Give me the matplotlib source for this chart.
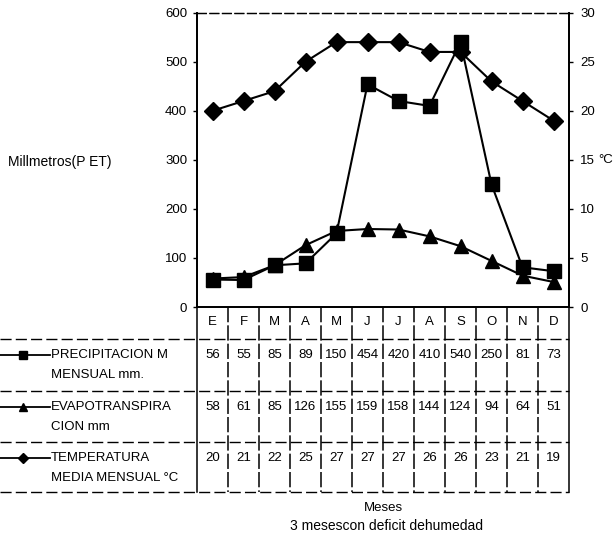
import matplotlib
matplotlib.use("Agg")
import matplotlib.pyplot as plt

plt.rcParams['font.family'] = ['Liberation Sans', 'DejaVu Sans']

# Climate data by month
months = ["E", "F", "M", "A", "M", "J", "J", "A", "S", "O", "N", "D"]
precipitacion = [56, 55, 85, 89, 150, 454, 420, 410, 540, 250, 81, 73]
evapotranspiracion = [58, 61, 85, 126, 155, 159, 158, 144, 124, 94, 64, 51]
temperatura = [20, 21, 22, 25, 27, 27, 27, 26, 26, 23, 21, 19]

mm_ticks = [0, 100, 200, 300, 400, 500, 600]
c_ticks = [0, 5, 10, 15, 20, 25, 30]

row_labels = [
    ("PRECIPITACION M", "MENSUAL mm."),
    ("EVAPOTRANSPIRA", "CION mm"),
    ("TEMPERATURA", "MEDIA MENSUAL °C"),
]
row_series = [precipitacion, evapotranspiracion, temperatura]
row_markers = ["s", "^", "D"]

W, H = 615, 538
fig = plt.figure(figsize=(W / 100, H / 100), dpi=100)


def px_rect(x0, y0, x1, y1):
    return [x0 / W, 1 - y1 / H, (x1 - x0) / W, (y1 - y0) / H]


AX_L, AX_R, AX_T, AX_B = 197, 569, 12.7, 307
TAB_B = 492
FS = 9.5

ax = fig.add_axes(px_rect(AX_L, AX_T, AX_R, AX_B))
ax2 = ax.twinx()

x = list(range(len(months)))
lw = 1.5
ax.plot(x, precipitacion, color="black", lw=lw, marker="s", ms=9.5,
        mec="black", mfc="black", zorder=3, clip_on=False)
ax.plot(x, evapotranspiracion, color="black", lw=lw, marker="^", ms=9.5,
        mec="black", mfc="black", zorder=3, clip_on=False)
ax2.plot(x, temperatura, color="black", lw=lw, marker="D", ms=9.5,
         mec="black", mfc="black", zorder=3, clip_on=False)

ax.set_xlim(-0.5, len(months) - 0.5)
ax.set_ylim(0, 600)
ax2.set_ylim(0, 30)
ax.set_yticks(mm_ticks)
ax2.set_yticks(c_ticks)
ax.set_xticks([])
ax.tick_params(axis="y", direction="out", length=3, width=1, pad=4,
               labelsize=FS)
ax2.tick_params(axis="y", direction="out", length=3, width=1, pad=5,
                labelsize=FS)

for a in (ax, ax2):
    for s in a.spines.values():
        s.set_linewidth(1.3)
    a.spines["top"].set_linestyle((0, (7, 3)))
    a.spines["top"].set_linewidth(0.9)

# Data table below the chart, sharing the month columns
tab = fig.add_axes(px_rect(AX_L, AX_B, AX_R, TAB_B))
tab.set_xlim(ax.get_xlim())
tab_h = TAB_B - AX_B
tab.set_ylim(tab_h, 0)
tab.axis("off")

col_w = (AX_R - AX_L) / len(months)
left_edge = -0.5 - AX_L / col_w
right_edge = len(months) - 0.5

rows = [0, 32, 84, 135, tab_h]

for yv in rows[1:]:
    tab.plot([left_edge, right_edge], [yv, yv], color="black", lw=1.0,
             ls=(0, (8, 3)), clip_on=False)
for k in range(len(months) + 1):
    xv = -0.5 + k
    ls = "-" if k in (0, len(months)) else (0, (10, 2))
    tab.plot([xv, xv], [0, tab_h], color="black", lw=1.1, ls=ls,
             clip_on=False)

for i, m in enumerate(months):
    tab.text(i, 15, m, ha="center", va="center", fontsize=FS)

for r, (series, (l1, l2), mk) in enumerate(zip(row_series, row_labels,
                                                row_markers)):
    top = rows[r + 1]
    y1 = top + 16
    y2 = top + 36
    for i, v in enumerate(series):
        tab.text(i, y1, str(v), ha="center", va="center", fontsize=FS)
    tab.plot([left_edge, left_edge + 50 / col_w], [y1, y1], color="black",
             lw=1.3, clip_on=False)
    tab.plot([left_edge + 23 / col_w], [y1], marker=mk, ms=5.5,
             color="black", clip_on=False)
    tab.text(left_edge + 51 / col_w, y1, l1, ha="left", va="center",
             fontsize=FS)
    tab.text(left_edge + 51 / col_w, y2, l2, ha="left", va="center",
             fontsize=FS)

fig.text(8 / W, 1 - 162 / H, "Millmetros(P ET)", ha="left", va="center",
         fontsize=10)
fig.text(598 / W, 1 - 160 / H, "°C", ha="left", va="center", fontsize=FS)
fig.text(383 / W, 1 - 508 / H, "Meses", ha="center", va="center",
         fontsize=FS)
fig.text(386 / W, 1 - 526 / H, "3 mesescon deficit dehumedad", ha="center",
         va="center", fontsize=10)

fig.savefig("out.png", dpi=100)
